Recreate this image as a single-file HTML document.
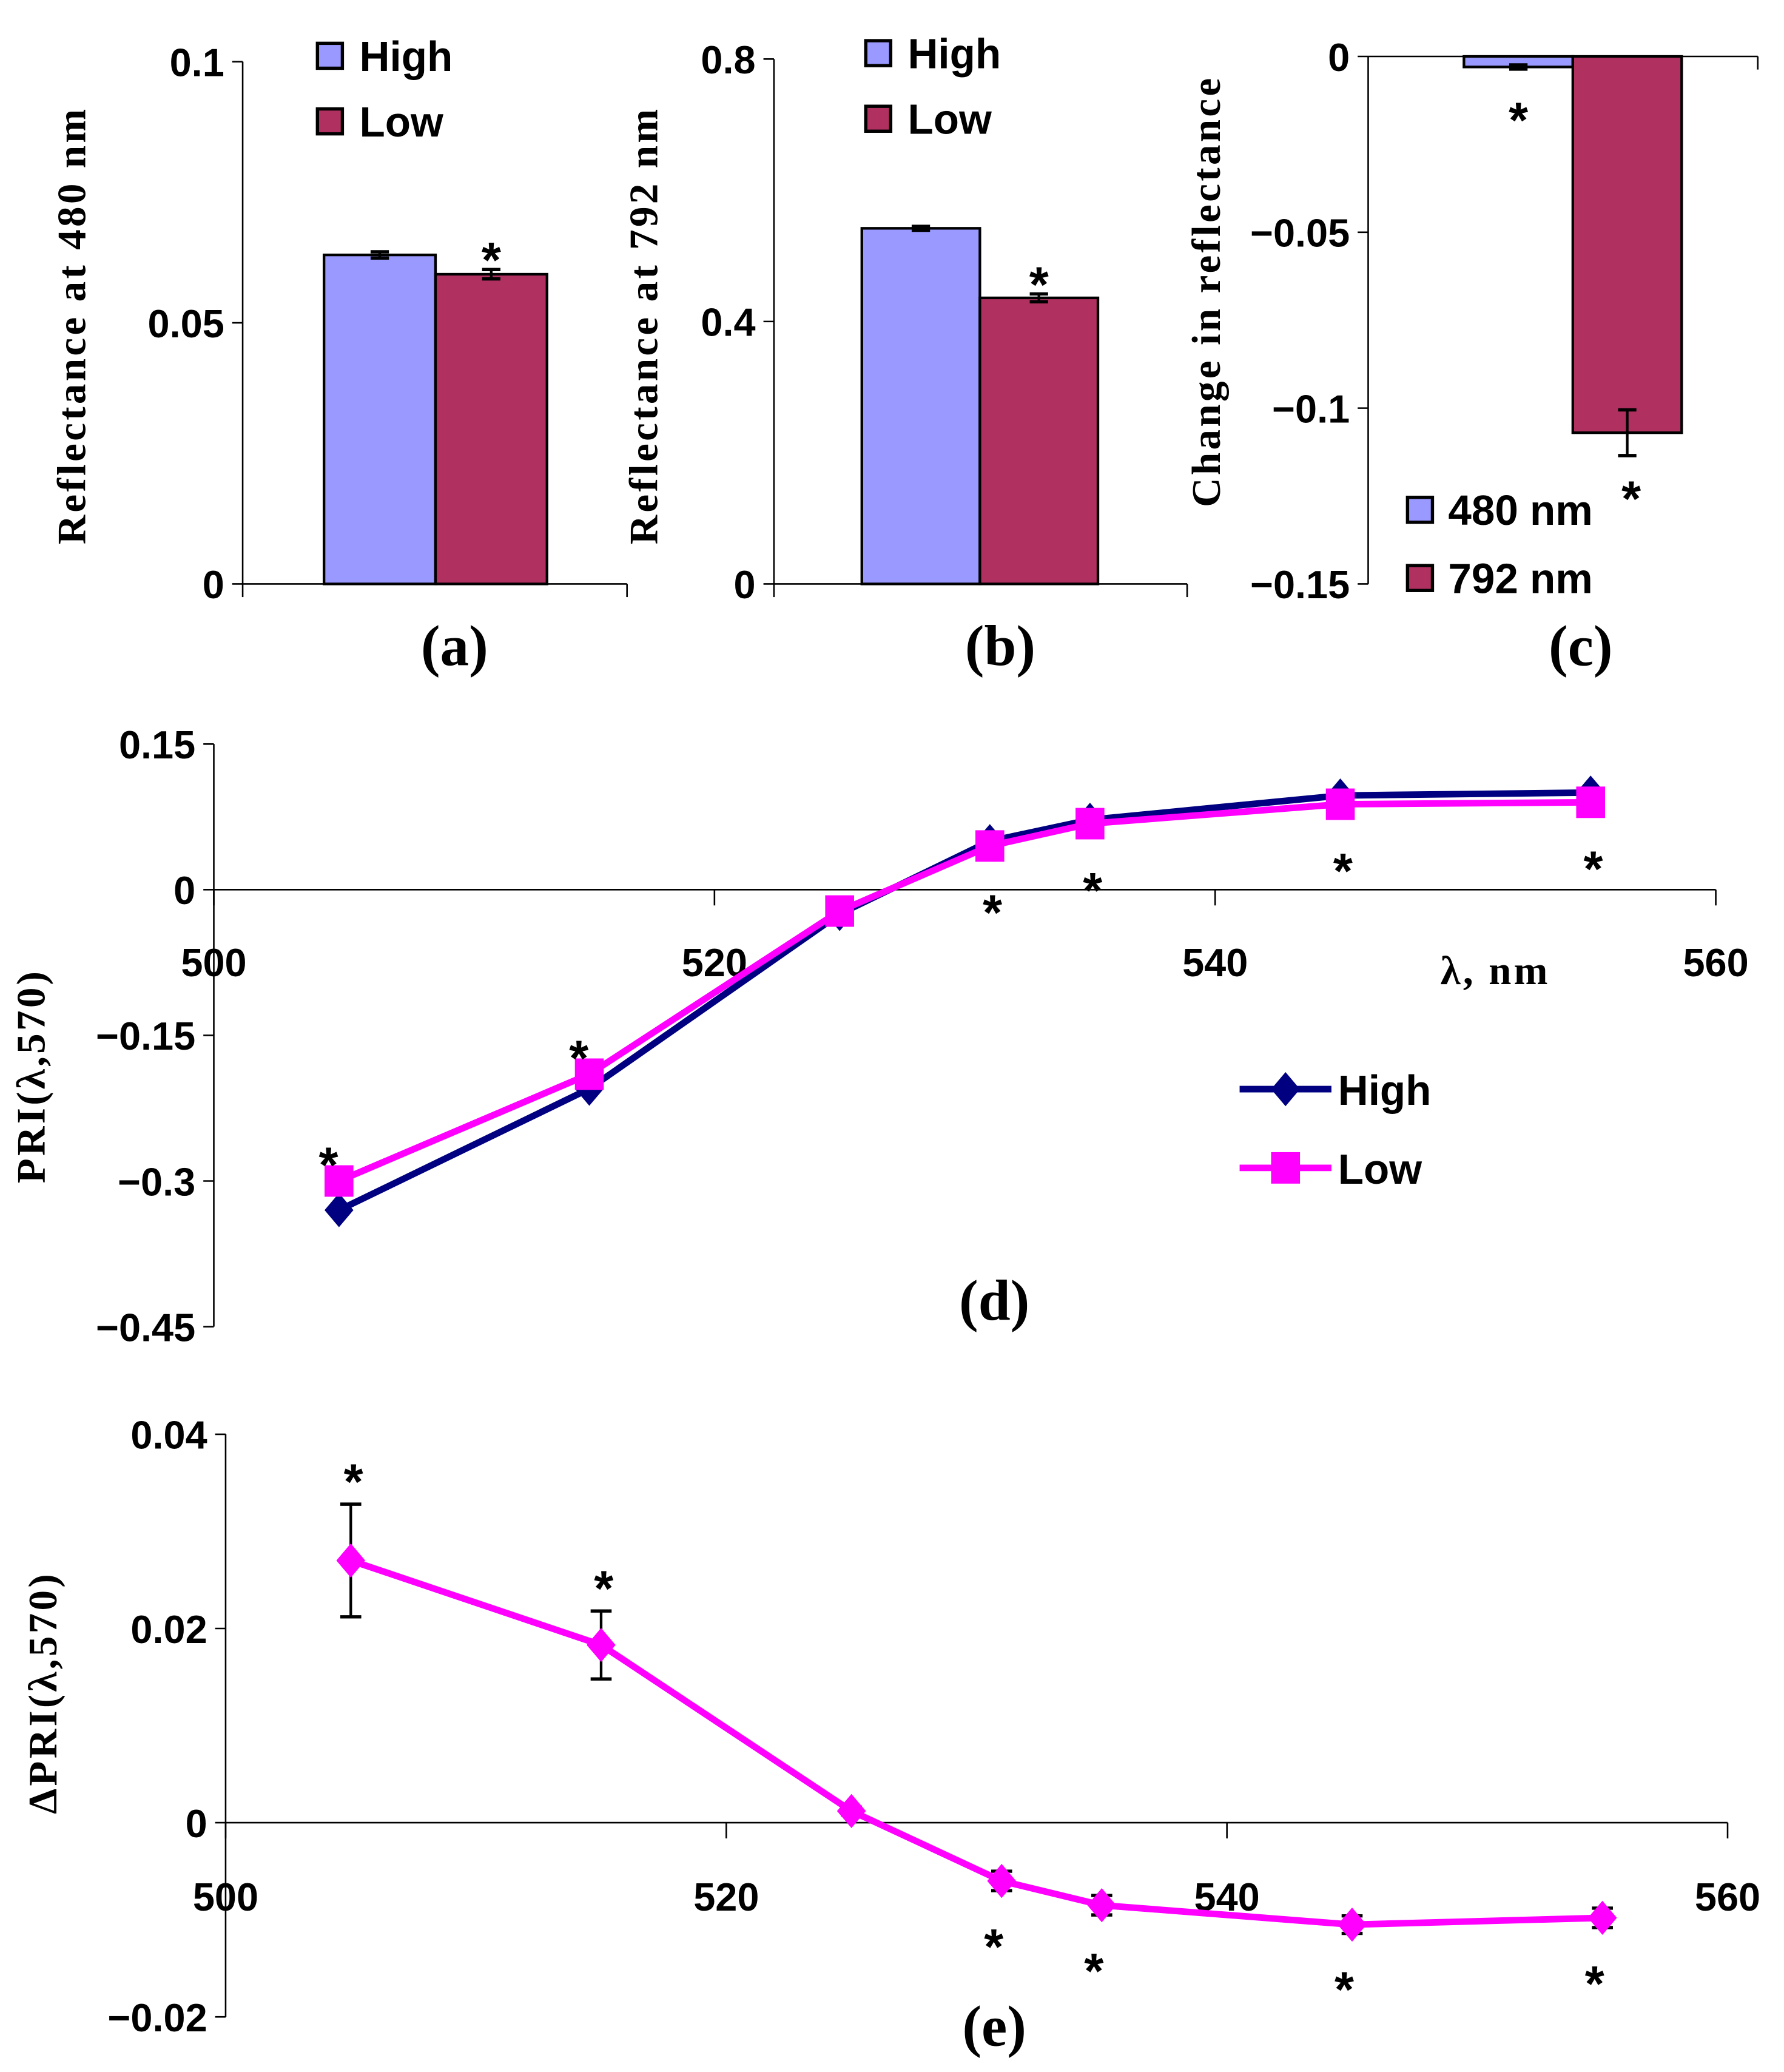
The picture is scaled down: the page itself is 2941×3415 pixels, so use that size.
<!DOCTYPE html>
<html><head><meta charset="utf-8"><style>
html,body{margin:0;padding:0;background:#fff;}
svg{display:block;}
.tk{font-family:"Liberation Sans",sans-serif;font-weight:bold;font-size:30px;fill:#000;}
.ti{font-family:"Liberation Serif",serif;font-weight:bold;font-size:31px;letter-spacing:2px;fill:#000;}
.lb{font-family:"Liberation Serif",serif;font-weight:bold;font-size:44px;fill:#000;}
.lg{font-family:"Liberation Sans",sans-serif;font-weight:bold;font-size:32px;fill:#000;}
.st{font-family:"Liberation Sans",sans-serif;font-weight:bold;font-size:38px;fill:#000;}
</style></head><body>
<svg id="fig" width="2941" height="3415" viewBox="0 0 1360 1579" preserveAspectRatio="none" xmlns="http://www.w3.org/2000/svg"></svg>
<script>
// ---- data ----
const barGroups = ["High","Low"];
const valsA = [0.063, 0.0593];
const errA = [0.0006, 0.0009];
const valsB = [0.542, 0.436];
const errB = [0.003, 0.006];
const catsC = ["480 nm","792 nm"];
const valsC = [-0.003, -0.107];
const errC = [0.0006, 0.0065];
const wl = [505,515,525,531,535,545,555];
const priHigh = [-0.33,-0.205,-0.025,0.05,0.072,0.097,0.1];
const priLow = [-0.30,-0.19,-0.022,0.045,0.068,0.088,0.09];
const starsD = [true,true,false,true,true,true,true];
const dPri = [0.027,0.0183,0.0012,-0.006,-0.0085,-0.0105,-0.0098];
const dErr = [0.0058,0.0035,0.0004,0.001,0.001,0.0009,0.001];
const starsE = [true,true,false,true,true,true,true];
const ticksA = [0,0.05,0.1], ticksALab=["0","0.05","0.1"];
const ticksB = [0,0.4,0.8], ticksBLab=["0","0.4","0.8"];
const ticksC = [0,-0.05,-0.1,-0.15], ticksCLab=["0","\u22120.05","\u22120.1","\u22120.15"];
const ticksDY = [0.15,0,-0.15,-0.3,-0.45], ticksDYLab=["0.15","0","\u22120.15","\u22120.3","\u22120.45"];
const ticksX = [500,520,540,560], ticksXLab=["500","520","540","560"];
const ticksEY = [0.04,0.02,0,-0.02], ticksEYLab=["0.04","0.02","0","\u22120.02"];

const S = document.getElementById('fig');
const NS = "http://www.w3.org/2000/svg";
function mk(tag, attrs, parent, text){
  const e=document.createElementNS(NS,tag);
  for(const k in attrs) e.setAttribute(k,attrs[k]);
  if(text!==undefined) e.textContent=text;
  (parent||S).appendChild(e); return e;
}
function lin(d0,d1,r0,r1){return v=>r0+(v-d0)*(r1-r0)/(d1-d0);}
const fills=["#9999ff","#b03060"];

function yAxis(g,x,ys,ticks,labs,tickLen){
  let l=mk('line',{x1:x,x2:x,y1:Math.min(...ticks.map(ys)),y2:Math.max(...ticks.map(ys)),stroke:'#000','stroke-width':1.2},g);
  
  
  ticks.forEach((t,i)=>{
    mk('line',{x1:x-tickLen,x2:x,y1:ys(t),y2:ys(t),stroke:'#000','stroke-width':1.2},g);
    let tx=mk('text',{x:x-14,y:ys(t)+11,'text-anchor':'end',class:'tk'},g,labs[i]);
    
    
  });
}
function star(g,x,y){
  let t=mk('text',{x:x,y:y,'text-anchor':'middle',class:'st'},g,'*');
  
  
}
function errbar(g,x,y1,y2,w){
  mk('line',{x1:x,x2:x,y1:y1,y2:y2,stroke:'#000','stroke-width':2},g);
  mk('line',{x1:x-w,x2:x+w,y1:y1,y2:y1,stroke:'#000','stroke-width':2.5},g);
  mk('line',{x1:x-w,x2:x+w,y1:y2,y2:y2,stroke:'#000','stroke-width':2.5},g);
}
function vtitle(g,x,y,txt,name){
  let t=mk('text',{x:x,y:y,transform:`rotate(-90 ${x} ${y})`,'text-anchor':'middle',class:'ti'},g,txt);
  
  
}

// ---- panel a / b ----
function barPanel(name,ax,axRight,yTop,yMax,vals,errs,ticks,labs,barX,barW,legX,legY,title,titleX,panelLab){
  const g=mk('g',{});
  
  
  const ys=lin(0,yMax,445,yTop);
  yAxis(g,ax,ys,ticks,labs,8);
  let xa=mk('line',{x1:ax,x2:axRight,y1:445,y2:445,stroke:'#000','stroke-width':1.2},g);
  
  
  mk('line',{x1:axRight,x2:axRight,y1:445,y2:455,stroke:'#000','stroke-width':1.2},g);
  mk('line',{x1:ax,x2:ax,y1:445,y2:455,stroke:'#000','stroke-width':1.2},g);
  vals.forEach((v,i)=>{
    const x=barX+i*barW;
    let r=mk('rect',{x:x,y:ys(v),width:barW,height:445-ys(v),fill:fills[i],stroke:'#000','stroke-width':2},g);
    
    
    errbar(g,x+barW/2,ys(v+errs[i]),ys(v-errs[i]),7);
  });
  star(g,barX+1.5*barW,ys(vals[1]+errs[1])+6);
  barGroups.forEach((n,i)=>{
    const y=legY+i*50;
    let r=mk('rect',{x:legX,y:y-9,width:19,height:19,fill:fills[i],stroke:'#000','stroke-width':2.5},g);
    
    
    let t=mk('text',{x:legX+32,y:y+12,class:'lg'},g,n);
    
    
  });
  vtitle(g,titleX,248,title,'y-axis-title');
  let p=mk('text',{x:(ax+axRight)/2+15,y:507,'text-anchor':'middle',class:'lb'},g,panelLab);
  
  
}
barPanel('panel-a',185,478,47,0.1,valsA,errA,ticksA,ticksALab,247,85,242,42,'Reflectance at 480 nm',65,'(a)');
barPanel('panel-b',590,905,45,0.8,valsB,errB,ticksB,ticksBLab,657,90,660,40,'Reflectance at 792 nm',501,'(b)');

// ---- panel c ----
(function(){
  const g=mk('g',{});
  
  
  const ys=lin(0,-0.15,43,445);
  yAxis(g,1043,ys,ticksC,ticksCLab,8);
  let xa=mk('line',{x1:1043,x2:1340,y1:43,y2:43,stroke:'#000','stroke-width':1.2},g);
  
  
  mk('line',{x1:1340,x2:1340,y1:43,y2:53,stroke:'#000','stroke-width':1.2},g);
  const bx=1116,bw=83;
  valsC.forEach((v,i)=>{
    const x=bx+i*bw;
    let r=mk('rect',{x:x,y:43,width:bw,height:ys(v)-43,fill:fills[i],stroke:'#000','stroke-width':2},g);
    
    
    errbar(g,x+bw/2,ys(v+errC[i]),ys(v-errC[i]),7);
  });
  star(g,bx+bw/2,ys(valsC[0]-errC[0])+52);
  star(g,bx+1.5*bw+3,ys(valsC[1]-errC[1])+46);
  catsC.forEach((n,i)=>{
    const y=388+i*52;
    let r=mk('rect',{x:1073,y:y-9,width:19,height:19,fill:fills[i],stroke:'#000','stroke-width':2.5},g);
    
    
    let t=mk('text',{x:1104,y:y+12,class:'lg'},g,n);
    
    
  });
  vtitle(g,930,222,'Change in reflectance','y-axis-title');
  let p=mk('text',{x:1205,y:507,'text-anchor':'middle',class:'lb'},g,'(c)');
  
  
})();

// ---- panel d ----
(function(){
  const g=mk('g',{});
  
  
  const xs=lin(500,560,163,1308), ys=lin(0,0.15,678,567);
  yAxis(g,163,ys,ticksDY,ticksDYLab,8);
  let xa=mk('line',{x1:163,x2:1308,y1:678,y2:678,stroke:'#000','stroke-width':1.2},g);
  
  
  ticksX.forEach((t,i)=>{
    mk('line',{x1:xs(t),x2:xs(t),y1:678,y2:690,stroke:'#000','stroke-width':1.2},g);
    let tx=mk('text',{x:xs(t),y:744,'text-anchor':'middle',class:'tk'},g,ticksXLab[i]);
    
    
  });
  let xt=mk('text',{x:1140,y:750,'text-anchor':'middle',class:'ti'},g,'\u03bb, nm');
  
  
  let ph=mk('polyline',{points:wl.map((w,i)=>xs(w)+','+ys(priHigh[i])).join(' '),fill:'none',stroke:'#000080','stroke-width':5},g);
  
  
  let pl=mk('polyline',{points:wl.map((w,i)=>xs(w)+','+ys(priLow[i])).join(' '),fill:'none',stroke:'#ff00ff','stroke-width':5},g);
  
  
  wl.forEach((w,i)=>{
    const x=xs(w),y=ys(priHigh[i]);
    let d=mk('polygon',{points:`${x},${y-13} ${x+11},${y} ${x},${y+13} ${x-11},${y}`,fill:'#000080'},g);
    
    
  });
  wl.forEach((w,i)=>{
    const x=xs(w),y=ys(priLow[i]);
    let r=mk('rect',{x:x-11,y:y-12,width:22,height:24,fill:'#ff00ff'},g);
    
    
  });
  wl.forEach((w,i)=>{
    if(!starsD[i])return;
    const lo=Math.min(priHigh[i],priLow[i]), hi=Math.max(priHigh[i],priLow[i]);
    if(hi<0) star(g,xs(w)-8,ys(hi)+1);
    else star(g,xs(w)+2,ys(lo)+64);
  });
  let l1=mk('line',{x1:945,x2:1015,y1:830,y2:830,stroke:'#000080','stroke-width':5},g);
  
  
  mk('polygon',{points:'980,817 991,830 980,843 969,830',fill:'#000080'},g);
  let t1=mk('text',{x:1020,y:842,class:'lg'},g,'High');
  
  
  let l2=mk('line',{x1:945,x2:1015,y1:890,y2:890,stroke:'#ff00ff','stroke-width':5},g);
  
  
  mk('rect',{x:969,y:878,width:22,height:24,fill:'#ff00ff'},g);
  let t2=mk('text',{x:1020,y:902,class:'lg'},g,'Low');
  
  
  vtitle(g,34,820,'PRI(\u03bb,570)','y-axis-title');
  let p=mk('text',{x:758,y:1006,'text-anchor':'middle',class:'lb'},g,'(d)');
  
  
})();

// ---- panel e ----
(function(){
  const g=mk('g',{});
  
  
  const xs=lin(500,560,172,1317), ys=lin(0,0.04,1389,1093);
  yAxis(g,172,ys,ticksEY,ticksEYLab,8);
  let xa=mk('line',{x1:172,x2:1317,y1:1389,y2:1389,stroke:'#000','stroke-width':1.2},g);
  
  
  ticksX.forEach((t,i)=>{
    mk('line',{x1:xs(t),x2:xs(t),y1:1389,y2:1401,stroke:'#000','stroke-width':1.2},g);
    let tx=mk('text',{x:xs(t),y:1456,'text-anchor':'middle',class:'tk'},g,ticksXLab[i]);
    
    
  });
  wl.forEach((w,i)=>errbar(g,xs(w),ys(dPri[i]+dErr[i]),ys(dPri[i]-dErr[i]),8));
  let pl=mk('polyline',{points:wl.map((w,i)=>xs(w)+','+ys(dPri[i])).join(' '),fill:'none',stroke:'#ff00ff','stroke-width':5},g);
  
  
  wl.forEach((w,i)=>{
    const x=xs(w),y=ys(dPri[i]);
    let d=mk('polygon',{points:`${x},${y-13} ${x+11},${y} ${x},${y+13} ${x-11},${y}`,fill:'#ff00ff'},g);
    
    
  });
  wl.forEach((w,i)=>{
    if(!starsE[i])return;
    if(dPri[i]>0) star(g,xs(w)+2,ys(dPri[i]+dErr[i])-4);
    else star(g,xs(w)-6,ys(dPri[i]-dErr[i])+56);
  });
  vtitle(g,43,1290,'\u0394PRI(\u03bb,570)','y-axis-title');
  let p=mk('text',{x:758,y:1559,'text-anchor':'middle',class:'lb'},g,'(e)');
  
  
})();
</script>
</body></html>
